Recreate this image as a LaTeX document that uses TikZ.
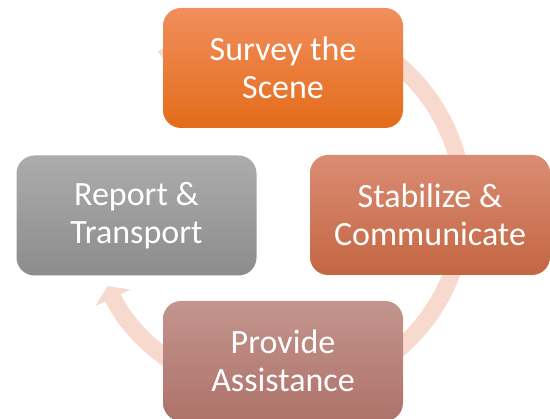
\documentclass[tikz,border=0pt]{standalone}
\usepackage{fontspec}
\setmainfont{Carlito}
\usetikzlibrary{arrows.meta}
\definecolor{ringpink}{RGB}{248,217,206}
\definecolor{surveytop}{RGB}{241,142,92}
\definecolor{surveymid}{RGB}{244,125,44}
\definecolor{surveybot}{RGB}{228,108,26}
\definecolor{stabtop}{RGB}{218,140,116}
\definecolor{stabbot}{RGB}{196,102,66}
\definecolor{provtop}{RGB}{195,149,142}
\definecolor{provbot}{RGB}{174,114,106}
\definecolor{reptop}{RGB}{172,172,172}
\definecolor{repbot}{RGB}{140,140,140}
\tikzset{
  stepbox/.style={rectangle, rounded corners=18pt, minimum width=240pt,
    minimum height=120pt, inner sep=0pt, align=center, text=white,
    font=\fontsize{34}{38.5}\selectfont},
  ringarrow/.style={line width=17pt, ringpink,
    -{Triangle[length=13pt,width=38pt]}}
}
\begin{document}
\begin{tikzpicture}[x=1pt,y=-1pt]
	    \useasboundingbox (0,0) rectangle (550,419);
	    \coordinate (hub) at (277,207);
	    \draw[ringarrow] (hub) ++(-127.5:187) arc[start angle=-127.5, end angle=155, radius=187];
	    \node[stepbox, top color=surveytop, middle color=surveymid, bottom color=surveybot] (survey) at (283,68) {Survey the\\Scene};
	    \node[stepbox, top color=stabtop, bottom color=stabbot] (stabilize) at (430,215) {Stabilize \&\\Communicate};
	    \node[stepbox, top color=provtop, bottom color=provbot] (provide) at (283,361) {Provide\\Assistance};
	    \node[stepbox, top color=reptop, bottom color=repbot] (report) at (136.5,215.5) {Report \&\\Transport};
\end{tikzpicture}
\end{document}
